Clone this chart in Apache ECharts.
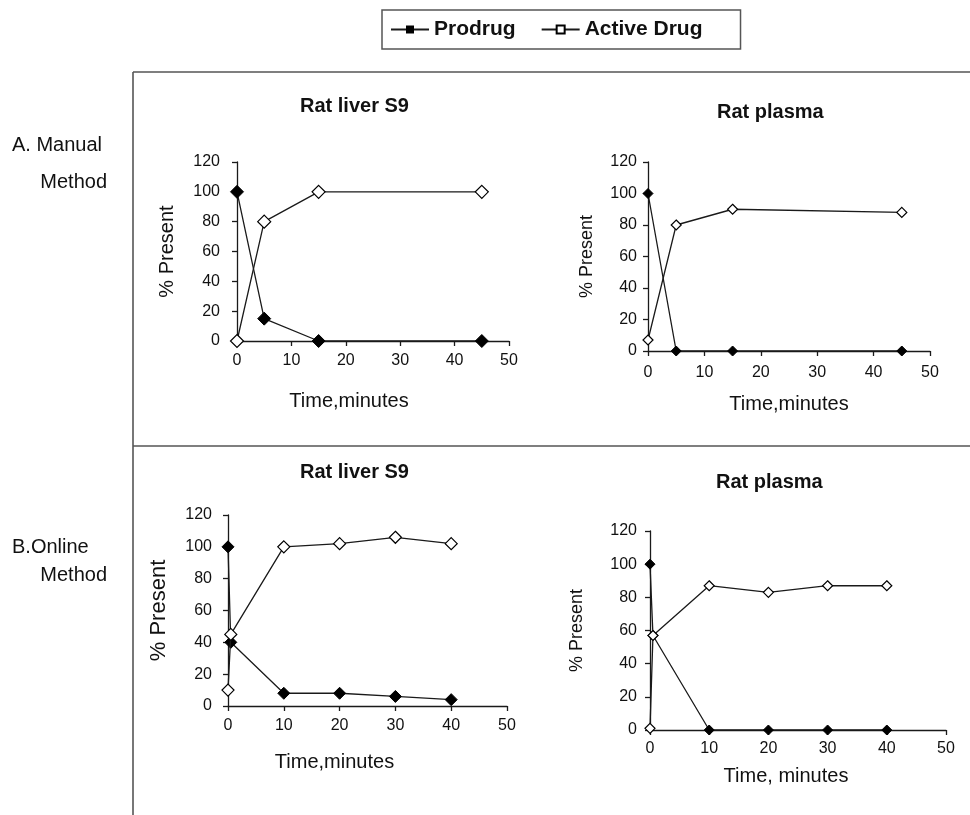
<!DOCTYPE html>
<html>
<head>
<meta charset="utf-8">
<script src="https://cdn.jsdelivr.net/npm/echarts@6/dist/echarts.min.js"></script>
<style>
html,body{margin:0;padding:0;background:#fff;}
#chart{width:970px;height:815px;}
</style>
</head>
<body>
<div id="chart"></div>
<script>
// ---- data ----
const seriesNames = ['Prodrug', 'Active Drug'];
const panelTitles = ['Rat liver S9', 'Rat plasma', 'Rat liver S9', 'Rat plasma'];
const xAxisTitles = ['Time,minutes', 'Time,minutes', 'Time,minutes', 'Time, minutes'];
const yAxisTitle = '% Present';
const rowLabels = ['A. Manual', 'Method', 'B.Online', 'Method'];
const xTickLabels = [0, 10, 20, 30, 40, 50];
const yTickLabels = [0, 20, 40, 60, 80, 100, 120];

// A. Manual method, rat liver S9
const manualS9Time = [0, 5, 15, 45];
const manualS9Prodrug = [100, 15, 0, 0];
const manualS9Active = [0, 80, 100, 100];
// A. Manual method, rat plasma
const manualPlasmaTime = [0, 5, 15, 45];
const manualPlasmaProdrug = [100, 0, 0, 0];
const manualPlasmaActive = [7, 80, 90, 88];
// B. Online method, rat liver S9
const onlineS9Time = [0, 0.5, 10, 20, 30, 40];
const onlineS9Prodrug = [100, 40, 8, 8, 6, 4];
const onlineS9Active = [10, 45, 100, 102, 106, 102];
// B. Online method, rat plasma
const onlinePlasmaTime = [0, 0.5, 10, 20, 30, 40];
const onlinePlasmaProdrug = [100, 57, 0, 0, 0, 0];
const onlinePlasmaActive = [1, 57, 87, 83, 87, 87];

// ---- chart ----
const FONT = '"Liberation Sans", Arial, Helvetica, sans-serif';
const INK = '#111';
const LINE = '#1a1a1a';

const panels = [
  {time: manualS9Time, pro: manualS9Prodrug, act: manualS9Active,
   grid: {left: 237, top: 162, width: 272, height: 179},
   tickFont: 16, xMargin: 12, yMargin: 17, yNameFont: 20, yNameGap: 60,
   xNameFont: 20, xNameGap: 50, xNameShift: 24, sym: 13},
  {time: manualPlasmaTime, pro: manualPlasmaProdrug, act: manualPlasmaActive,
   grid: {left: 648, top: 162, width: 282, height: 189},
   tickFont: 16, xMargin: 14, yMargin: 11, yNameFont: 18, yNameGap: 52,
   xNameFont: 20, xNameGap: 43, xNameShift: 0, sym: 10},
  {time: onlineS9Time, pro: onlineS9Prodrug, act: onlineS9Active,
   grid: {left: 228, top: 515, width: 279, height: 191},
   tickFont: 16, xMargin: 12, yMargin: 16, yNameFont: 22, yNameGap: 58,
   xNameFont: 20, xNameGap: 46, xNameShift: 33, sym: 12},
  {time: onlinePlasmaTime, pro: onlinePlasmaProdrug, act: onlinePlasmaActive,
   grid: {left: 650, top: 531, width: 296, height: 199},
   tickFont: 16, xMargin: 11, yMargin: 13, yNameFont: 18, yNameGap: 64,
   xNameFont: 20, xNameGap: 36, xNameShift: 12, sym: 10}
];

const grids = [], xAxes = [], yAxes = [];
const series = [
  // legend icon carriers (no data): line with a square marker
  {name: seriesNames[0], type: 'line', xAxisIndex: 0, yAxisIndex: 0, data: [],
   symbol: 'rect', itemStyle: {color: '#000', borderColor: '#000'}, lineStyle: {color: LINE, width: 1.3}},
  {name: seriesNames[1], type: 'line', xAxisIndex: 0, yAxisIndex: 0, data: [],
   symbol: 'rect', itemStyle: {color: '#fff', borderColor: '#000', borderWidth: 1.2}, lineStyle: {color: LINE, width: 1.3}}
];

panels.forEach((p, i) => {
  grids.push(Object.assign({containLabel: false}, p.grid));
  const axisLine = {show: true, onZero: false, lineStyle: {color: LINE, width: 1.3}};
  const axisTick = {show: true, length: 5, lineStyle: {color: LINE, width: 1.3}};
  xAxes.push({
    gridIndex: i, type: 'value', min: xTickLabels[0], max: xTickLabels[xTickLabels.length - 1],
    interval: xTickLabels[1] - xTickLabels[0],
    axisLine, axisTick, splitLine: {show: false},
    axisLabel: {color: INK, fontFamily: FONT, fontSize: p.tickFont, margin: p.xMargin},
    name: xAxisTitles[i], nameLocation: 'middle', nameGap: p.xNameGap,
    nameTextStyle: {color: INK, fontFamily: FONT, fontSize: p.xNameFont,
                    padding: [0, p.xNameShift * 2, 0, 0]}
  });
  yAxes.push({
    gridIndex: i, type: 'value', min: yTickLabels[0], max: yTickLabels[yTickLabels.length - 1],
    interval: yTickLabels[1] - yTickLabels[0],
    axisLine, axisTick, splitLine: {show: false},
    axisLabel: {color: INK, fontFamily: FONT, fontSize: p.tickFont, margin: p.yMargin},
    name: yAxisTitle, nameLocation: 'middle', nameGap: p.yNameGap,
    nameTextStyle: {color: INK, fontFamily: FONT, fontSize: p.yNameFont}
  });
  series.push({
    name: seriesNames[0], type: 'line', xAxisIndex: i, yAxisIndex: i,
    data: p.time.map((t, k) => [t, p.pro[k]]),
    symbol: 'diamond', symbolSize: p.sym, showAllSymbol: true,
    itemStyle: {color: '#000', borderColor: '#000', borderWidth: 1},
    lineStyle: {color: LINE, width: 1.3}, emphasis: {disabled: true}, z: 3
  });
  series.push({
    name: seriesNames[1], type: 'line', xAxisIndex: i, yAxisIndex: i,
    data: p.time.map((t, k) => [t, p.act[k]]),
    symbol: 'diamond', symbolSize: p.sym, showAllSymbol: true,
    itemStyle: {color: '#fff', borderColor: '#000', borderWidth: 1.2},
    lineStyle: {color: LINE, width: 1.3}, emphasis: {disabled: true}, z: 4
  });
});

const titleStyle = {fill: INK, font: 'bold 20px ' + FONT};
const textStyle = {fill: INK, font: '20px ' + FONT};
const frameStroke = {stroke: '#555', lineWidth: 1.6};

const option = {
  backgroundColor: '#fff',
  animation: false,
  legend: {
    data: seriesNames,
    left: 382, top: 10,
    orient: 'horizontal',
    itemWidth: 38, itemHeight: 10, itemGap: 25,
    padding: [9, 38, 9, 8],
    borderColor: '#555', borderWidth: 1.5,
    textStyle: {color: INK, fontFamily: FONT, fontSize: 21, fontWeight: 'bold'},
    selectedMode: false
  },
  grid: grids, xAxis: xAxes, yAxis: yAxes, series,
  graphic: [
    {type: 'line', shape: {x1: 133, y1: 72, x2: 970, y2: 72}, style: frameStroke, silent: true},
    {type: 'line', shape: {x1: 133, y1: 72, x2: 133, y2: 815}, style: frameStroke, silent: true},
    {type: 'line', shape: {x1: 133, y1: 446, x2: 970, y2: 446}, style: frameStroke, silent: true},
    {type: 'text', left: 300, top: 96, style: Object.assign({text: panelTitles[0]}, titleStyle)},
    {type: 'text', left: 717, top: 102, style: Object.assign({text: panelTitles[1]}, titleStyle)},
    {type: 'text', left: 300, top: 462, style: Object.assign({text: panelTitles[2]}, titleStyle)},
    {type: 'text', left: 716, top: 472, style: Object.assign({text: panelTitles[3]}, titleStyle)},
    {type: 'text', left: 12, top: 135, style: Object.assign({text: rowLabels[0]}, textStyle)},
    {type: 'text', right: 970 - 107, top: 172, style: Object.assign({text: rowLabels[1]}, textStyle)},
    {type: 'text', left: 12, top: 537, style: Object.assign({text: rowLabels[2]}, textStyle)},
    {type: 'text', right: 970 - 107, top: 565, style: Object.assign({text: rowLabels[3]}, textStyle)}
  ]
};

const chart = echarts.init(document.getElementById('chart'), null, {renderer: 'canvas'});
chart.setOption(option);
</script>
</body>
</html>
